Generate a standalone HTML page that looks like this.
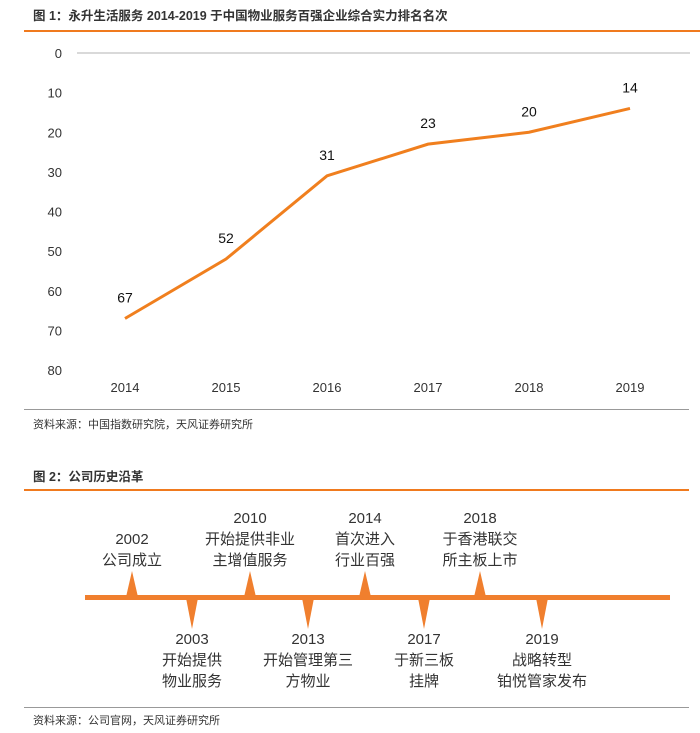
<!DOCTYPE html>
<html><head><meta charset="utf-8">
<style>
body{margin:0;background:#fff;}
svg{display:block;font-family:"Liberation Sans","Noto Sans CJK SC",sans-serif;}
</style></head>
<body>
<svg width="700" height="733" viewBox="0 0 700 733">
<text x="33" y="20" font-size="12.5" font-weight="bold" fill="#333">图 1：永升生活服务 2014-2019 于中国物业服务百强企业综合实力排名名次</text>
<rect x="24" y="30" width="676" height="2" fill="#f07a1e"/>
<g id="chart"></g>
<rect x="24" y="409" width="665" height="1" fill="#999"/>
<text x="33" y="428" font-size="11" fill="#333">资料来源：中国指数研究院，天风证券研究所</text>

<text x="33" y="481" font-size="12.5" font-weight="bold" fill="#333">图 2：公司历史沿革</text>
<rect x="24" y="489" width="665" height="2" fill="#f07a1e"/>
<g id="timeline"></g>
<rect x="24" y="707" width="665" height="1" fill="#999"/>
<text x="33" y="724" font-size="11" fill="#333">资料来源：公司官网，天风证券研究所</text>
</svg>
<script>
const years=["2014","2015","2016","2017","2018","2019"];
const ranks=[67,52,31,23,20,14];
const yTicks=[0,10,20,30,40,50,60,70,80];
const NS="http://www.w3.org/2000/svg";
function mk(t,a,p){const e=document.createElementNS(NS,t);for(const k in a)e.setAttribute(k,a[k]);p.appendChild(e);return e;}
const g=document.getElementById('chart');
const xs=i=>125+i*101;
const ys=v=>53+v*(317/80);
const gl=mk('line',{x1:77,x2:690,y1:ys(0),y2:ys(0),stroke:'#d9d9d9','stroke-width':2},g);


yTicks.forEach(v=>{const t=mk('text',{x:62,y:ys(v)+5,'text-anchor':'end','font-size':13,fill:'#333'},g);t.textContent=v;

});
years.forEach((y,i)=>{const t=mk('text',{x:xs(i),y:392,'text-anchor':'middle','font-size':13,fill:'#333'},g);t.textContent=y;

});
const pl=mk('polyline',{points:ranks.map((v,i)=>xs(i)+','+ys(v)).join(' '),fill:'none',stroke:'#f07f1e','stroke-width':3},g);


ranks.forEach((v,i)=>{const t=mk('text',{x:xs(i),y:ys(v)-16,'text-anchor':'middle','font-size':14,fill:'#111'},g);t.textContent=v;

});

const tl=document.getElementById('timeline');
const ln=mk('rect',{x:85,y:595,width:585,height:5,fill:'#f07f2e'},tl);


const events=[
 {x:132,up:true,lines:["2002","公司成立"]},
 {x:192,up:false,lines:["2003","开始提供","物业服务"]},
 {x:250,up:true,lines:["2010","开始提供非业","主增值服务"]},
 {x:308,up:false,lines:["2013","开始管理第三","方物业"]},
 {x:365,up:true,lines:["2014","首次进入","行业百强"]},
 {x:424,up:false,lines:["2017","于新三板","挂牌"]},
 {x:480,up:true,lines:["2018","于香港联交","所主板上市"]},
 {x:542,up:false,lines:["2019","战略转型","铂悦管家发布"]}];
events.forEach(e=>{
 const p=e.up?`${e.x-6},597 ${e.x},571 ${e.x+6},597`:`${e.x-6},598 ${e.x},629 ${e.x+6},598`;
 const s=mk('polygon',{points:p,fill:'#f07f2e'},tl);
 
 
 const n=e.lines.length;
 e.lines.forEach((l,k)=>{
  const y=e.up?(565-(n-1-k)*21):(644+k*21);
  const t=mk('text',{x:e.x,y:y,'text-anchor':'middle','font-size':15,fill:'#333'},tl);t.textContent=l;
  
  
 });
});
</script>
</body></html>
